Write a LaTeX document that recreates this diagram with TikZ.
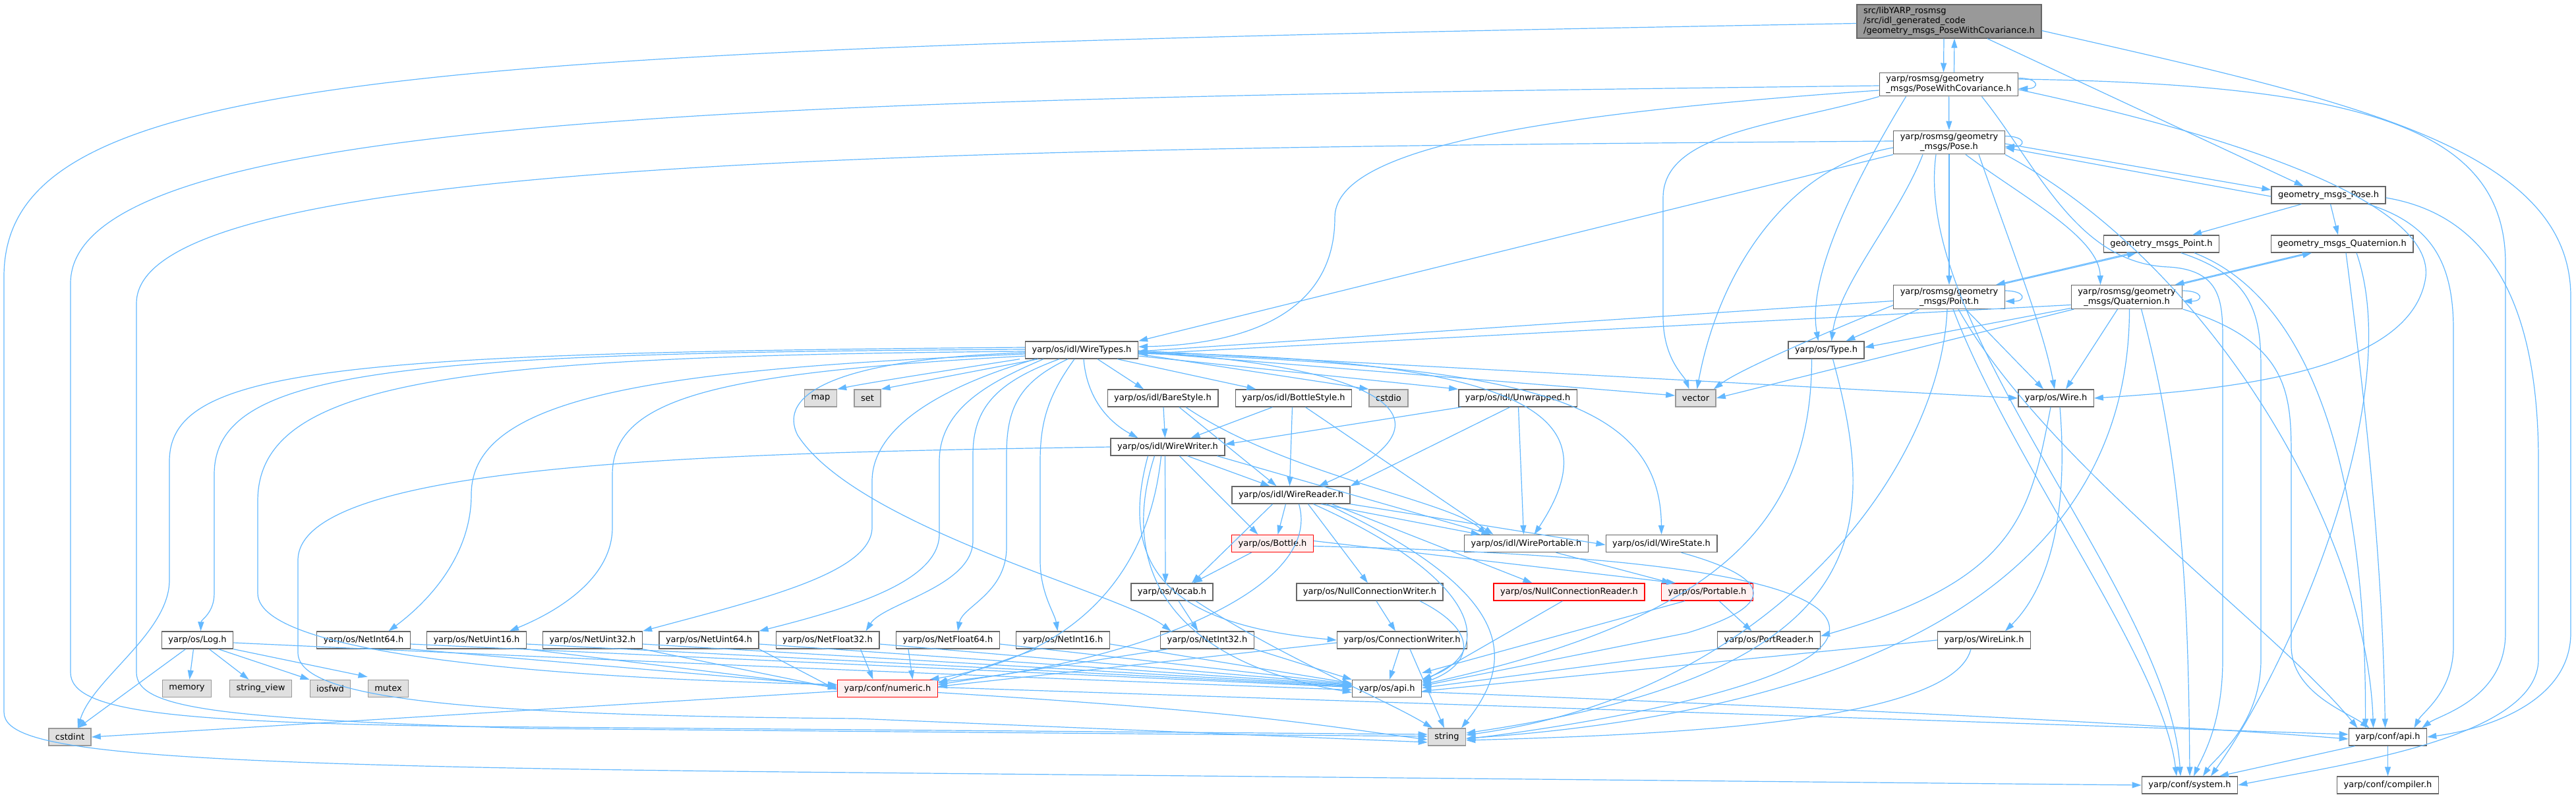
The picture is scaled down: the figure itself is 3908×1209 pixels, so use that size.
\documentclass[tikz,border=0pt]{standalone}
\usepackage{fontspec}
\setmainfont{DejaVu Sans}
\usepackage{tikz}
\usetikzlibrary{arrows.meta,positioning}
\definecolor{edgeblue}{HTML}{63B8FF}
\definecolor{boxgray}{HTML}{666666}
\definecolor{topgray}{HTML}{999999}
\definecolor{sysgray}{HTML}{999999}
\definecolor{sysfill}{HTML}{E0E0E0}
\definecolor{redfill}{HTML}{FFF0F0}

\begin{document}
\begin{tikzpicture}[x=1pt,y=-1pt,
    file/.style={draw=boxgray,fill=white,line width=1.4pt,font=\fontsize{13}{15}\selectfont,
      inner xsep=10pt,inner ysep=4pt,minimum height=26pt},
    mainfile/.style={file,fill=topgray,align=left},
    sysfile/.style={file,draw=sysgray,fill=sysfill},
    redfile/.style={file,draw=red,fill=redfill},
    dep/.style={draw=edgeblue,line width=1.2pt,-{Triangle[length=14pt,width=9pt]}}]
    \useasboundingbox (0,0) rectangle (3908,1209);
    % files
    \node[mainfile] (top) at (2957,32.5) {src/libYARP\_rosmsg\\/src/idl\_generated\_code\\/geometry\_msgs\_PoseWithCovariance.h};
    \node[file,align=left] (pwc) at (2956.5,128) {yarp/rosmsg/geometry\\\_msgs/PoseWithCovariance.h};
    \node[file,align=center] (pose) at (2957,216) {yarp/rosmsg/geometry\\\_msgs/Pose.h};
    \node[file] (gmpose) at (3532.5,296) {geometry\_msgs\_Pose.h};
    \node[file] (gmpoint) at (3279,370) {geometry\_msgs\_Point.h};
    \node[file] (gmquat) at (3553,370) {geometry\_msgs\_Quaternion.h};
    \node[file,align=center] (point) at (2957,450.5) {yarp/rosmsg/geometry\\\_msgs/Point.h};
    \node[file,align=center] (quat) at (3226.5,450.5) {yarp/rosmsg/geometry\\\_msgs/Quaternion.h};
    \node[file] (type) at (2770.5,531) {yarp/os/Type.h};
    \node[file] (wire) at (3119,604) {yarp/os/Wire.h};
    \node[file] (wiretypes) at (1641,531) {yarp/os/idl/WireTypes.h};
    \node[sysfile] (map) at (1245,604) {map};
    \node[sysfile] (set) at (1316,604) {set};
    \node[file] (barestyle) at (1764,604) {yarp/os/idl/BareStyle.h};
    \node[file] (bottlestyle) at (1962.5,604) {yarp/os/idl/BottleStyle.h};
    \node[sysfile] (cstdio) at (2106.5,604) {cstdio};
    \node[file] (unwrapped) at (2302.5,604) {yarp/os/idl/Unwrapped.h};
    \node[sysfile] (vector) at (2572.5,604) {vector};
    \node[file] (wirewriter) at (1771.5,678) {yarp/os/idl/WireWriter.h};
    \node[file] (wirereader) at (1958.5,751) {yarp/os/idl/WireReader.h};
    \node[redfile] (bottle) at (1930.5,824.5) {yarp/os/Bottle.h};
    \node[file] (wireportable) at (2315.5,824.5) {yarp/os/idl/WirePortable.h};
    \node[file] (wirestate) at (2520.5,824.5) {yarp/os/idl/WireState.h};
    \node[file] (vocab) at (1778,898) {yarp/os/Vocab.h};
    \node[file] (ncwriter) at (2078,898) {yarp/os/NullConnectionWriter.h};
    \node[redfile] (ncreader) at (2380.5,898) {yarp/os/NullConnectionReader.h};
    \node[redfile] (portable) at (2590,898) {yarp/os/Portable.h};
    \node[file] (log) at (299.5,971) {yarp/os/Log.h};
    \node[file] (netint64) at (551.5,971) {yarp/os/NetInt64.h};
    \node[file] (netuint16) at (723,971) {yarp/os/NetUint16.h};
    \node[file] (netuint32) at (899,971) {yarp/os/NetUint32.h};
    \node[file] (netuint64) at (1075.5,971) {yarp/os/NetUint64.h};
    \node[file] (netfloat32) at (1255.5,971) {yarp/os/NetFloat32.h};
    \node[file] (netfloat64) at (1438,971) {yarp/os/NetFloat64.h};
    \node[file] (netint16) at (1612.5,971) {yarp/os/NetInt16.h};
    \node[file] (netint32) at (1831.5,971) {yarp/os/NetInt32.h};
    \node[file] (connwriter) at (2127,971) {yarp/os/ConnectionWriter.h};
    \node[file] (portreader) at (2683.5,971) {yarp/os/PortReader.h};
    \node[file] (wirelink) at (3010,971) {yarp/os/WireLink.h};
    \node[sysfile] (memory) at (283.5,1044.5) {memory};
    \node[sysfile] (stringview) at (395.5,1044.5) {string\_view};
    \node[sysfile] (iosfwd) at (501,1044.5) {iosfwd};
    \node[sysfile] (mutex) at (589,1044.5) {mutex};
    \node[redfile] (numeric) at (1346.5,1044.5) {yarp/conf/numeric.h};
    \node[file] (osapi) at (2104,1044.5) {yarp/os/api.h};
    \node[sysfile] (cstdint) at (106,1118) {cstdint};
    \node[sysfile] (string) at (2195,1118) {string};
    \node[file] (confapi) at (3622.5,1118) {yarp/conf/api.h};
    \node[file] (system) at (3322,1191) {yarp/conf/system.h};
    \node[file] (compiler) at (3622.5,1191) {yarp/conf/compiler.h};

    % top file
    \draw[dep] ([xshift=-8pt]top.south) -- ([xshift=-8pt]pwc.north);
    \draw[dep] ([xshift=8pt]pwc.north) -- ([xshift=8pt]top.south);
    \draw[dep] ([xshift=58pt]top.south) -- ([xshift=-38pt]gmpose.north);
    \draw[dep] ([yshift=-14pt]top.east) .. controls (3550,150) and (3900,220) .. (3900,450) -- (3900,960) .. controls (3900,1070) and (3760,1108) .. (confapi.east);
    \draw[dep] ([yshift=-3pt]top.west) .. controls (600,75) and (6,110) .. (6,420) -- (6,1080) .. controls (6,1140) and (200,1162) .. (1300,1172) -- (system.west);

    % PoseWithCovariance
    \draw[dep] ([yshift=-9pt]pwc.north east) .. controls +(32,0) and +(32,0) .. ([yshift=12pt]pwc.south east);
    \draw[dep] (pwc) -- (pose);
    \draw[dep] ([yshift=-2pt]pwc.west) .. controls (1200,150) and (107,170) .. (107,430) -- (107,1020) .. controls (107,1080) and (260,1095) .. (700,1102) -- ([yshift=4pt]string.west);
    \draw[dep] ([yshift=-9pt]pwc.west) .. controls (2300,175) and (2025,230) .. (2025,330) .. controls (2025,470) and (1900,522) .. ([yshift=5pt]wiretypes.east);
    \draw[dep] ([xshift=-65pt]pwc.south) .. controls (2780,330) and (2745,440) .. ([xshift=-12pt]type.north);
    \draw[dep] (pwc.south west) .. controls (2700,190) and (2523,200) .. (2523,300) -- (2523,480) .. controls (2523,545) and (2555,570) .. ([xshift=-10pt]vector.north);
    \draw[dep] ([yshift=-8pt]pwc.east) .. controls (3500,230) and (3690,330) .. (3680,420) .. controls (3660,560) and (3400,590) .. (wire.east);
    \draw[dep] ([yshift=8pt]pwc.east) .. controls (3600,128) and (3801,200) .. (3801,400) -- (3801,960) .. controls (3801,1060) and (3700,1085) .. ([xshift=-8pt]confapi.north east);
    \draw[dep] ([xshift=50pt]pwc.south) .. controls (3090,250) and (3150,400) .. (3290,405) .. controls (3372,410) and (3372,460) .. (3372,520) -- (3372,1000) .. controls (3372,1100) and (3340,1150) .. ([xshift=6pt]system.north);

    % Pose
    \draw[dep] ([yshift=-9pt]pose.north east) .. controls +(32,0) and +(32,0) .. ([yshift=12pt]pose.south east);
    \draw[dep] ([yshift=-2pt]pose.east) -- ([yshift=8pt]gmpose.west);
    \draw[dep] ([yshift=-2pt]gmpose.west) -- ([yshift=-8pt]pose.east);
    \draw[dep] (pose) -- (point);
    \draw[dep] ([xshift=25pt]pose.south) .. controls (3070,300) and (3185,360) .. ([xshift=-40pt]quat.north);
    \draw[dep] (pose.south west) -- (wiretypes.north east);
    \draw[dep] ([yshift=2pt]pose.west) .. controls (1400,225) and (207,240) .. (207,460) -- (207,1020) .. controls (207,1075) and (330,1090) .. (800,1105) -- ([yshift=1pt]string.west);
    \draw[dep] ([xshift=-40pt]pose.south) .. controls (2880,330) and (2790,430) .. ([xshift=8pt]type.north);
    \draw[dep] ([yshift=-8pt]pose.west) .. controls (2720,250) and (2610,400) .. ([xshift=2pt]vector.north);
    \draw[dep] ([xshift=45pt]pose.south) .. controls (3060,400) and (3100,500) .. ([xshift=-2pt]wire.north);
    \draw[dep] (pose.south east) .. controls (3350,400) and (3590,800) .. ([xshift=-22pt]confapi.north);
    \draw[dep] ([xshift=-20pt]pose.south) .. controls (2900,500) and (3290,900) .. ([xshift=-14pt]system.north);

    % geometry_msgs_Pose
    \draw[dep] ([xshift=-41pt]gmpose.south) -- ([xshift=47pt]gmpoint.north);
    \draw[dep] ([xshift=3pt]gmpose.south) -- ([xshift=-6pt]gmquat.north);
    \draw[dep] ([xshift=60pt]gmpose.south) .. controls (3690,340) and (3722,400) .. (3722,500) -- (3722,980) .. controls (3722,1050) and (3675,1080) .. ([xshift=40pt]confapi.north);
    \draw[dep] ([yshift=-4pt]gmpose.east) .. controls (3800,330) and (3851,500) .. (3851,700) -- (3851,1000) .. controls (3851,1120) and (3550,1160) .. (system.east);

    % geometry_msgs_Point and geometry_msgs_Quaternion
    \draw[dep] ([xshift=-45pt]gmpoint.south) -- ([xshift=-14pt]point.north east);
    \draw[dep] ([xshift=-8pt]point.north east) -- ([xshift=-38pt]gmpoint.south);
    \draw[dep] ([xshift=30pt]gmpoint.south) .. controls (3420,420) and (3430,480) .. (3430,560) -- (3430,1000) .. controls (3430,1100) and (3360,1150) .. ([xshift=20pt]system.north);
    \draw[dep] ([xshift=50pt]gmpoint.south) .. controls (3500,450) and (3590,700) .. ([xshift=-34pt]confapi.north);
    \draw[dep] ([xshift=-52pt]gmquat.south) -- ([xshift=-12pt]quat.north east);
    \draw[dep] ([xshift=-6pt]quat.north east) -- ([xshift=-46pt]gmquat.south);
    \draw[dep] ([xshift=6pt]gmquat.south) .. controls (3600,700) and (3615,900) .. ([xshift=-4pt]confapi.north);
    \draw[dep] ([xshift=22pt]gmquat.south) .. controls (3650,600) and (3480,1000) .. ([xshift=32pt]system.north);

    % Point
    \draw[dep] ([yshift=-9pt]point.north east) .. controls +(32,0) and +(32,0) .. ([yshift=12pt]point.south east);
    \draw[dep] ([yshift=-6pt]point.west) -- ([yshift=-2pt]wiretypes.east);
    \draw[dep] ([xshift=-46pt]point.south) -- ([xshift=30pt]type.north);
    \draw[dep] ([xshift=25pt]point.south) -- ([xshift=-19pt]wire.north);
    \draw[dep] ([yshift=6pt]point.south west) .. controls (2780,500) and (2640,560) .. ([xshift=-4pt]vector.north east);
    \draw[dep] ([xshift=-3pt]point.south) .. controls (2945,700) and (2700,1050) .. ([yshift=3pt]string.east);
    \draw[dep] ([xshift=6pt]point.south) .. controls (3050,700) and (3280,1000) .. ([xshift=-20pt]system.north);
    \draw[dep] ([xshift=14pt]point.south) .. controls (3100,700) and (3450,950) .. ([xshift=-46pt]confapi.north);

    % Quaternion
    \draw[dep] ([yshift=-9pt]quat.north east) .. controls +(32,0) and +(32,0) .. ([yshift=12pt]quat.south east);
    \draw[dep] ([yshift=-12pt]quat.west) -- ([yshift=-6pt]wiretypes.east);
    \draw[dep] ([yshift=-17pt]quat.west) -- ([yshift=4pt]type.east);
    \draw[dep] ([xshift=5pt]quat.south west) -- (vector.east);
    \draw[dep] ([xshift=-14pt]quat.south) -- ([xshift=15pt]wire.north);
    \draw[dep] ([xshift=4pt]quat.south) .. controls (3230,900) and (2800,1080) .. ([yshift=-2pt]string.east);
    \draw[dep] ([xshift=22pt]quat.south) .. controls (3310,700) and (3320,900) .. (system.north);
    \draw[dep] (quat.south east) .. controls (3476,520) and (3476,600) .. (3476,700) -- (3476,980) .. controls (3476,1050) and (3560,1080) .. ([xshift=-28pt]confapi.north);

    % Type, Wire, WireLink, PortReader
    \draw[dep] ([xshift=-22pt]type.south) .. controls (2748,800) and (2600,940) .. ([yshift=6pt]osapi.east);
    \draw[dep] ([xshift=10pt]type.south) .. controls (2850,800) and (2850,1020) .. ([yshift=6pt]string.east);
    \draw[dep] ([xshift=-8pt]wire.south) .. controls (3080,780) and (3060,880) .. ([yshift=6pt]portreader.east);
    \draw[dep] ([xshift=6pt]wire.south) .. controls (3140,800) and (3100,900) .. ([xshift=32pt]wirelink.north);
    \draw[dep] (wirelink.west) -- ([yshift=-4pt]osapi.east);
    \draw[dep] ([xshift=-20pt]wirelink.south) .. controls (2960,1100) and (2500,1115) .. ([yshift=-5pt]string.east);
    \draw[dep] (portreader.south west) -- ([yshift=1pt]osapi.east);

    % conf
    \draw[dep] ([xshift=-50pt]confapi.south) -- ([xshift=45pt]system.north);
    \draw[dep] (confapi) -- (compiler);
    \draw[dep] ([yshift=-5pt]osapi.east) .. controls (2800,1075) and (3300,1100) .. ([yshift=-3pt]confapi.west);
    \draw[dep] ([yshift=-4pt]numeric.west) -- (cstdint.east);
    \draw[dep] ([yshift=-6pt]numeric.east) .. controls (1900,1080) and (2000,1100) .. ([yshift=-4pt]string.west);
    \draw[dep] ([yshift=2pt]numeric.east) -- ([yshift=4pt]confapi.west);

    % Log
    \draw[dep] ([xshift=-6pt]log.south) -- ([xshift=4pt]memory.north);
    \draw[dep] ([xshift=18pt]log.south) -- ([xshift=-18pt]stringview.north);
    \draw[dep] ([xshift=32pt]log.south) -- (iosfwd.north west);
    \draw[dep] (log.south east) -- ([yshift=4pt]mutex.north west);
    \draw[dep] ([xshift=-18pt]log.south) -- ([xshift=12pt]cstdint.north);
    \draw[dep] ([yshift=-4pt]log.east) .. controls (1000,1005) and (1600,1030) .. ([yshift=-2pt]osapi.west);

    % Net types
    \draw[dep] (netint64.south east) -- ([yshift=4pt]numeric.west);
    \draw[dep] ([yshift=-6pt]netint64.east) -- ([yshift=2pt]osapi.west);
    \draw[dep] (netuint16.south east) -- ([yshift=2pt]numeric.west);
    \draw[dep] ([yshift=-6pt]netuint16.east) -- ([yshift=3pt]osapi.west);
    \draw[dep] (netuint32.south east) -- ([yshift=0pt]numeric.west);
    \draw[dep] ([yshift=-6pt]netuint32.east) -- ([yshift=4pt]osapi.west);
    \draw[dep] (netuint64.south east) -- ([yshift=-2pt]numeric.west);
    \draw[dep] ([yshift=-6pt]netuint64.east) -- ([yshift=5pt]osapi.west);
    \draw[dep] ([xshift=50pt]netfloat32.south) -- ([xshift=-22pt]numeric.north);
    \draw[dep] ([yshift=-6pt]netfloat32.east) -- ([yshift=6pt]osapi.west);
    \draw[dep] ([xshift=-60pt]netfloat64.south) -- ([xshift=38pt]numeric.north);
    \draw[dep] ([yshift=-6pt]netfloat64.east) -- ([yshift=7pt]osapi.west);
    \draw[dep] ([xshift=-40pt]netint16.south) -- ([yshift=8pt]numeric.east);
    \draw[dep] ([yshift=-6pt]netint16.east) -- ([yshift=8pt]osapi.west);
    \draw[dep] ([xshift=-60pt]netint32.south) -- ([yshift=6pt]numeric.east);
    \draw[dep] (netint32.south east) -- (osapi.north west);

    % ConnectionWriter and friends
    \draw[dep] ([yshift=-4pt]connwriter.west) -- ([yshift=3pt]numeric.east);
    \draw[dep] ([xshift=-4pt]connwriter.south) -- ([xshift=4pt]osapi.north);
    \draw[dep] ([xshift=12pt]connwriter.south) -- ([xshift=-4pt]string.north);
    \draw[dep] ([xshift=10pt]ncwriter.south) -- ([xshift=-10pt]connwriter.north);
    \draw[dep] ([xshift=76pt]ncwriter.south) .. controls (2250,960) and (2230,1010) .. ([yshift=8pt]osapi.east);
    \draw[dep] ([xshift=-10pt]ncreader.south) -- ([yshift=10pt]osapi.east);
    \draw[dep] ([xshift=-34pt]portable.south) -- ([yshift=10pt]osapi.north east);
    \draw[dep] ([xshift=18pt]portable.south) -- ([xshift=-26pt]portreader.north);
    \draw[dep] ([xshift=45pt]wireportable.south) -- ([xshift=-55pt]portable.north);
    \draw[dep] ([xshift=30pt]wirestate.south) .. controls (2700,880) and (2690,920) .. (2560,960) -- ([yshift=4pt]osapi.east);
    \draw[dep] ([xshift=10pt]vocab.south) -- ([xshift=-14pt]netint32.north);
    \draw[dep] ([xshift=36pt]vocab.south) .. controls (1950,1000) and (2100,1060) .. ([xshift=-22pt]string.north);

    % Bottle
    \draw[dep] ([xshift=-32pt]bottle.south) -- ([xshift=32pt]vocab.north);
    \draw[dep] ([yshift=4pt]bottle.east) -- ([xshift=-48pt]portable.north);
    \draw[dep] ([yshift=-4pt]bottle.east) .. controls (2500,840) and (2790,880) .. (2775,960) .. controls (2760,1040) and (2400,1100) .. ([yshift=-3pt]string.east);

    % WireReader
    \draw[dep] ([xshift=-28pt]wirereader.south) -- ([xshift=30pt]vocab.north);
    \draw[dep] ([xshift=-8pt]wirereader.south) -- ([xshift=8pt]bottle.north);
    \draw[dep] ([xshift=26pt]wirereader.south) -- ([xshift=-3pt]ncwriter.north);
    \draw[dep] ([xshift=46pt]wirereader.south) -- ([xshift=-70pt]wireportable.north);
    \draw[dep] ([xshift=62pt]wirereader.south) -- ([xshift=-56pt]ncreader.north);
    \draw[dep] (wirereader.south east) -- ([yshift=-2pt]wirestate.west);
    \draw[dep] ([xshift=12pt]wirereader.south) .. controls (2010,900) and (1700,1010) .. ([yshift=10pt]numeric.east);
    \draw[dep] ([xshift=34pt]wirereader.south) .. controls (2250,880) and (2270,990) .. (osapi.north east);
    \draw[dep] ([xshift=54pt]wirereader.south) .. controls (2300,900) and (2300,1000) .. ([xshift=22pt]string.north);

    % WireWriter
    \draw[dep] ([xshift=30pt]wirewriter.south) -- ([xshift=-32pt]wirereader.north);
    \draw[dep] ([xshift=-4pt]wirewriter.south) -- ([xshift=-10pt]vocab.north);
    \draw[dep] ([xshift=18pt]wirewriter.south) -- ([xshift=-22pt]bottle.north);
    \draw[dep] ([xshift=75pt]wirewriter.south) -- ([xshift=-54pt]wireportable.north);
    \draw[dep] ([xshift=-30pt]wirewriter.south) .. controls (1690,880) and (1800,950) .. (connwriter.west);
    \draw[dep] ([xshift=-20pt]wirewriter.south) .. controls (1700,850) and (1760,1000) .. ([yshift=-6pt]osapi.west);
    \draw[dep] ([xshift=-10pt]wirewriter.south) .. controls (1740,900) and (1600,1000) .. ([xshift=64pt]numeric.north);
    \draw[dep] (wirewriter.west) .. controls (1100,687) and (452,700) .. (452,850) -- (452,990) .. controls (452,1060) and (700,1085) .. (1300,1090) -- ([yshift=-8pt]string.west);

    % styles
    \draw[dep] ([xshift=1pt]barestyle.south) -- ([xshift=-4pt]wirewriter.north);
    \draw[dep] ([xshift=25pt]barestyle.south) -- ([xshift=-22pt]wirereader.north);
    \draw[dep] ([xshift=35pt]barestyle.south) .. controls (1950,720) and (2200,760) .. ([xshift=-60pt]wireportable.north);
    \draw[dep] ([xshift=-32pt]bottlestyle.south) -- ([xshift=35pt]wirewriter.north);
    \draw[dep] ([xshift=-2pt]bottlestyle.south) -- ([xshift=-2pt]wirereader.north);
    \draw[dep] ([xshift=18pt]bottlestyle.south) -- ([xshift=-50pt]wireportable.north);
    \draw[dep] ([xshift=-86pt]unwrapped.south) -- ([yshift=4pt]wirewriter.east);
    \draw[dep] ([xshift=-12pt]unwrapped.south) -- (wirereader.north east);
    \draw[dep] ([xshift=1pt]unwrapped.south) -- ([xshift=-4pt]wireportable.north);

    % WireTypes
    \draw[dep] ([xshift=-8pt]wiretypes.south west) .. controls (1450,560) and (1320,580) .. (map.north east);
    \draw[dep] ([xshift=20pt]wiretypes.south west) -- (set.north east);
    \draw[dep] ([xshift=24pt]wiretypes.south) -- ([xshift=-29pt]barestyle.north);
    \draw[dep] ([xshift=54pt]wiretypes.south) -- ([xshift=-57pt]bottlestyle.north);
    \draw[dep] ([yshift=-6pt]wiretypes.east) -- (cstdio.north west);
    \draw[dep] ([yshift=-9pt]wiretypes.east) -- (unwrapped.north west);
    \draw[dep] ([yshift=-3pt]wiretypes.east) -- ([yshift=4pt]vector.west);
    \draw[dep] ([yshift=-1pt]wiretypes.east) -- (wire.west);
    \draw[dep] ([xshift=3pt]wiretypes.south) .. controls (1650,620) and (1700,650) .. ([xshift=-45pt]wirewriter.north);
    \draw[dep] ([yshift=-2pt]wiretypes.east) .. controls (2150,560) and (2200,650) .. ([xshift=42pt]wirereader.north);
    \draw[dep] ([yshift=-4pt]wiretypes.east) .. controls (2350,545) and (2440,640) .. ([xshift=12pt]wireportable.north);
    \draw[dep] ([yshift=-5pt]wiretypes.east) .. controls (2300,555) and (2519,600) .. (wirestate.north);
    \draw[dep] ([yshift=4pt]wiretypes.west) .. controls (500,535) and (257,560) .. (257,700) -- (257,880) .. controls (257,960) and (140,1030) .. ([xshift=12pt]cstdint.north);
    \draw[dep] ([yshift=1pt]wiretypes.west) .. controls (600,535) and (325,560) .. (325,720) -- (325,900) .. controls (325,930) and (305,940) .. ([xshift=5pt]log.north);
    \draw[dep] ([yshift=-2pt]wiretypes.west) .. controls (700,540) and (391,575) .. (391,760) -- (391,900) .. controls (391,1000) and (900,1030) .. ([yshift=6pt]numeric.west);
    \draw[dep] ([yshift=-6pt]wiretypes.west) .. controls (1000,560) and (715,600) .. (715,750) .. controls (715,850) and (640,920) .. ([xshift=38pt]netint64.north);
    \draw[dep] ([yshift=-9pt]wiretypes.west) .. controls (1100,565) and (929,600) .. (929,720) -- (929,800) .. controls (929,880) and (840,930) .. ([xshift=50pt]netuint16.north);
    \draw[dep] ([yshift=-4pt]wiretypes.west) .. controls (1260,545) and (1180,600) .. (1210,660) .. controls (1300,800) and (1700,900) .. ([xshift=-55pt]netint32.north);
    \draw[dep] ([xshift=-70pt]wiretypes.south) .. controls (1450,580) and (1323,640) .. (1323,730) -- (1323,800) .. controls (1323,870) and (1150,910) .. (netuint32.north east);
    \draw[dep] ([xshift=-58pt]wiretypes.south) .. controls (1500,580) and (1425,620) .. (1425,700) -- (1425,810) .. controls (1425,880) and (1300,920) .. (netuint64.north east);
    \draw[dep] ([xshift=-34pt]wiretypes.south) .. controls (1510,580) and (1476,620) .. (1476,690) -- (1476,820) .. controls (1476,890) and (1340,915) .. ([xshift=58pt]netfloat32.north);
    \draw[dep] ([xshift=-21pt]wiretypes.south) .. controls (1545,580) and (1527,620) .. (1527,690) -- (1527,830) .. controls (1527,900) and (1460,920) .. ([xshift=15pt]netfloat64.north);
    \draw[dep] ([xshift=-11pt]wiretypes.south) .. controls (1590,600) and (1578,640) .. (1578,700) -- (1578,850) .. controls (1578,900) and (1600,930) .. ([xshift=-8pt]netint16.north);
\end{tikzpicture}
\end{document}
